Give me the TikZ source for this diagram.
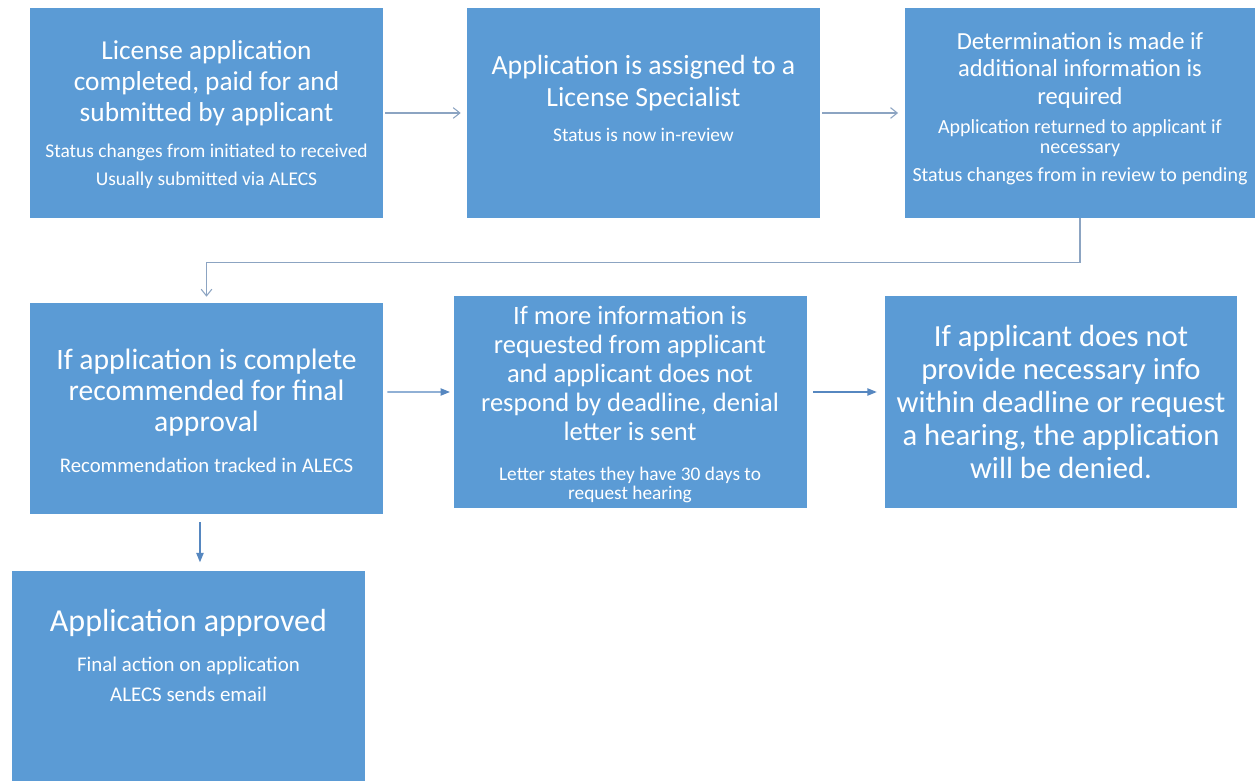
\documentclass[tikz,border=0pt]{standalone}
\usepackage{fontspec}
\setmainfont{Carlito}
\usetikzlibrary{arrows.meta}

\definecolor{boxblue}{RGB}{91,155,213}
\definecolor{linegrey}{RGB}{140,164,194}
\definecolor{lineblue}{RGB}{86,135,192}
\newcommand{\boxfont}[2]{\fontsize{#1}{#2}\selectfont}

\tikzset{
  box/.style={fill=boxblue, minimum width=264.75pt, minimum height=157.5pt, inner sep=0pt},
  head/.style={text=white, align=center, inner sep=0pt},
  note/.style={text=white, align=center, inner sep=0pt},
  thin arrow/.style={draw=linegrey, line width=0.8pt, -{Straight Barb[length=5pt,width=8pt]}},
  fat arrow/.style={draw=lineblue, line width=0.9pt, -{Triangle[length=7pt,width=5.5pt]}}
}

\begin{document}
\begin{tikzpicture}[x=0.75pt,y=-0.75pt]
\useasboundingbox[fill=white] (0,0) rectangle (1257,781);

% boxes
\node[box] (lic) at (206.5,113) {};
\node[box] (assign) at (643.5,113) {};
\node[box,minimum width=262.5pt] (determ) at (1080,113) {};
\node[box,minimum height=158.25pt] (recomm) at (206.5,408.5) {};
\node[box,minimum height=159pt] (moreinfo) at (630,402) {};
\node[box,minimum width=264pt,minimum height=159pt] (denied) at (1061,402) {};
\node[box] (approved) at (188.5,676) {};

% texts
\node[head,font=\boxfont{20.5}{23.25}] (lic-h) at (206.5,83)
  {License application\\completed, paid for and\\submitted by applicant};
\node[note,font=\boxfont{14.6}{21}] (lic-n) at (206.5,166)
  {Status changes from initiated to received\\Usually submitted via ALECS};
\node[head,font=\boxfont{20.8}{24}] (assign-h) at (643.5,83)
  {Application is assigned to a\\License Specialist};
\node[note,font=\boxfont{14.5}{16}] (assign-n) at (643.5,135) {Status is now in-review};
\node[head,font=\boxfont{18.4}{20.6}] (determ-h) at (1080,70)
  {Determination is made if\\additional information is\\required};
\node[note,font=\boxfont{15}{15}] (determ-n) at (1080,152)
  {Application returned to applicant if\\necessary\\[6pt]Status changes from in review to pending};
\node[head,font=\boxfont{22.2}{23.25}] (recomm-h) at (206.5,393)
  {If application is complete\\recommended for final\\approval};
\node[note,font=\boxfont{15.6}{18}] (recomm-n) at (206.5,465) {Recommendation tracked in ALECS};
\node[head,font=\boxfont{19.9}{21.75}] (moreinfo-h) at (630,373)
  {If more information is\\requested from applicant\\and applicant does not\\respond by deadline, denial\\letter is sent};
\node[note,font=\boxfont{14.5}{14.25}] (moreinfo-n) at (630,485)
  {Letter states they have 30 days to\\request hearing};
\node[head,font=\boxfont{23}{24.75}] (denied-h) at (1061,402)
  {If applicant does not\\provide necessary info\\within deadline or request\\a hearing, the application\\will be denied.};
\node[head,font=\boxfont{24}{26}] (approved-h) at (188.5,623) {Application approved};
\node[note,font=\boxfont{15.7}{22.5}] (approved-n) at (188.5,679)
  {Final action on application\\ALECS sends email};

% connectors
\draw[thin arrow,shorten <=1.5pt,shorten >=4.5pt] (lic) -- (assign);
\draw[thin arrow,shorten <=1.5pt,shorten >=5pt] (assign) -- (determ);
\draw[thin arrow,shorten >=4.5pt] (determ.south) -- ++(0,44) -| (recomm.north);
\draw[fat arrow,shorten <=3pt,shorten >=2.5pt] ([yshift=12.4pt]recomm.east) -- ([yshift=7.5pt]moreinfo.west);
\draw[fat arrow,shorten <=5pt,shorten >=6pt] ([yshift=7.5pt]moreinfo.east) -- ([yshift=7.5pt]denied.west);
\draw[fat arrow] ([xshift=-4.9pt,yshift=-6pt]recomm.south) -- ([xshift=-4.9pt,yshift=-36pt]recomm.south);
\end{tikzpicture}
\end{document}
